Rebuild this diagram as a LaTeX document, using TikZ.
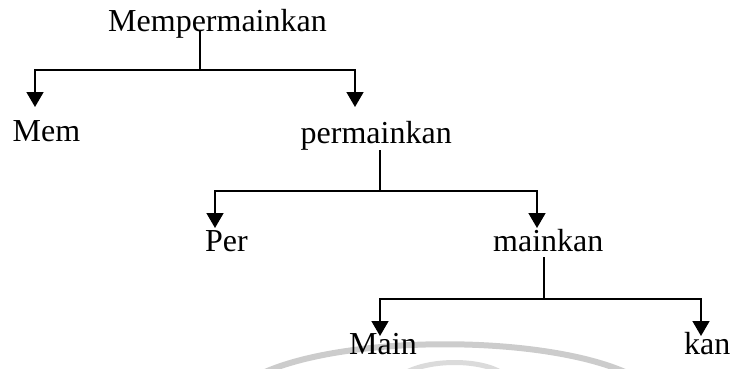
\documentclass[tikz,border=0pt]{standalone}
\usepackage{fontspec}
\setmainfont{Liberation Serif}
\usetikzlibrary{arrows.meta}
\begin{document}
\begin{tikzpicture}[x=1pt,y=-1pt,
  word/.style={anchor=base west,inner sep=0pt,font=\fontsize{32}{37}\selectfont},
  ln/.style={line width=1.6pt},
  arr/.style={line width=1.6pt,-{Triangle[width=17pt,length=15pt]}},
  wm/.style={line width=6pt,black!20}]
\useasboundingbox (0,0) rectangle (731,369);
% faint watermark arcs
\draw[wm] (265,372) .. controls (350,335) and (540,335) .. (625,372);
\draw[wm,line width=5pt,black!14] (405,373) .. controls (430,359) and (480,359) .. (502,373);
% words
\node[word] (root) at (108,32) {Mempermainkan};
\node[word] (mem) at (12.5,141.7) {Mem};
\node[word] (perm) at (300.5,143) {permainkan};
\node[word] (per) at (205,251.7) {Per};
\node[word] (mink) at (493,251.7) {mainkan};
\node[word] (main) at (349,354.5) {Main};
\node[word] (kan) at (684,354.5) {kan};
% junction and tip coordinates
\coordinate (r0) at (200,30);
\coordinate (r1) at (200,70);
\coordinate (tmem) at (35,107);
\coordinate (tperm) at (355,107);
\coordinate (p0) at (380,150);
\coordinate (p1) at (380,191);
\coordinate (tper) at (215,228);
\coordinate (tmink) at (537,228);
\coordinate (m0) at (544,257);
\coordinate (m1) at (544,299);
\coordinate (tmain) at (380,336);
\coordinate (tkan) at (701,336);
% connectors
\draw[ln] (r0) -- (r1);
\draw[arr] (r1) -| (tmem);
\draw[arr] (r1) -| (tperm);
\draw[ln] (p0) -- (p1);
\draw[arr] (p1) -| (tper);
\draw[arr] (p1) -| (tmink);
\draw[ln] (m0) -- (m1);
\draw[arr] (m1) -| (tmain);
\draw[arr] (m1) -| (tkan);
\end{tikzpicture}
\end{document}
